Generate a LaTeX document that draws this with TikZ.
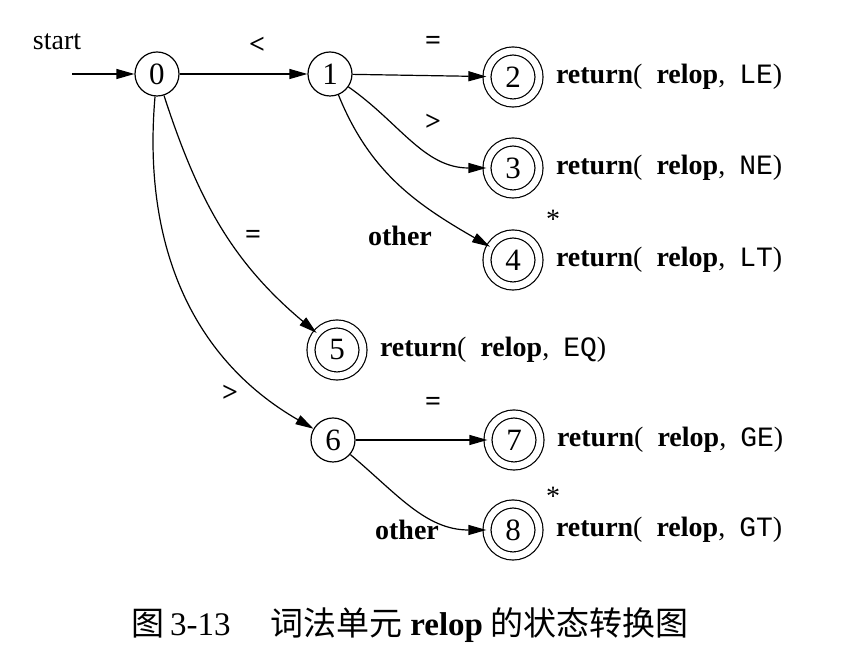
\documentclass[tikz,border=0pt]{standalone}
\usepackage{fontspec}
\setmainfont{Liberation Serif}
\setmonofont{Liberation Mono}
\newfontfamily\cjk{Noto Sans CJK SC}
\usetikzlibrary{arrows.meta,positioning}

\begin{document}
\begin{tikzpicture}[
  x=0.5pt, y=-0.5pt,
  font=\fontsize{14}{16}\selectfont,
  state/.style={draw, circle, minimum size=22pt, inner sep=0pt, line width=0.6pt,
    font=\fontsize{15.5}{16}\selectfont},
  accept/.style={state, minimum size=26pt, double, double distance=3.4pt},
  edge/.style={draw, line width=0.6pt, -{Triangle[length=9pt,width=5pt]}},
  ret/.style={right=7pt of #1, inner sep=1pt}
]
\useasboundingbox (0,0) rectangle (859,656);

% States
\node[state]  (n0) at (157,74)  {0};
\node[state]  (n1) at (330,74)  {1};
\node[accept] (n2) at (513,77)  {2};
\node[accept] (n3) at (513,168) {3};
\node[accept] (n4) at (513,260) {4};
\node[accept] (n5) at (337,350) {5};
\node[state]  (n6) at (333,440) {6};
\node[accept] (n7) at (514,440) {7};
\node[accept] (n8) at (513,530) {8};
\coordinate (s) at (72,74);

% Actions
\node[ret=n2] (r2) {\textbf{return}(\ \ \textbf{relop},\ \ \texttt{LE})};
\node[ret=n3] (r3) {\textbf{return}(\ \ \textbf{relop},\ \ \texttt{NE})};
\node[ret=n4] (r4) {\textbf{return}(\ \ \textbf{relop},\ \ \texttt{LT})};
\node[ret=n5] (r5) {\textbf{return}(\ \ \textbf{relop},\ \ \texttt{EQ})};
\node[ret=n7] (r7) {\textbf{return}(\ \ \textbf{relop},\ \ \texttt{GE})};
\node[ret=n8] (r8) {\textbf{return}(\ \ \textbf{relop},\ \ \texttt{GT})};
\node (st4) at (553,219) {*};
\node (st8) at (553,496) {*};

% Transitions
\draw[edge] (s) -- (n0);
\draw[edge] (n0) -- (n1);
\draw[edge] (n1) -- (n2);
\draw[edge] (n1) to[out=-35, in=180] (n3);
\draw[edge] (n1) to[out=-68, in=150] (n4);
\draw[edge] (n0) to[out=-72, in=140] (n5);
\draw[edge] (n0) to[out=-95, in=150] (n6);
\draw[edge] (n6) -- (n7);
\draw[edge] (n6) to[out=-40, in=180] (n8);

% Labels
\node (lstart) at (57,42)  {start};
\node (l01) at (257,45)  {\textbf{<}};
\node (l12) at (433,43)  {\textbf{=}};
\node (l13) at (433,122) {\textbf{>}};
\node (l14) at (400,236) {\textbf{other}};
\node (l05) at (253,237) {\textbf{=}};
\node (l06) at (230,393) {\textbf{>}};
\node (l67) at (433,404) {\textbf{=}};
\node (l68) at (407,530) {\textbf{other}};

% Caption
\node (cap) at (410,625) {\fontsize{16.5}{19}\selectfont\cjk 图\,{\rmfamily 3-13}\quad\ 词法单元 {\rmfamily\bfseries relop} 的状态转换图};
\end{tikzpicture}
\end{document}
